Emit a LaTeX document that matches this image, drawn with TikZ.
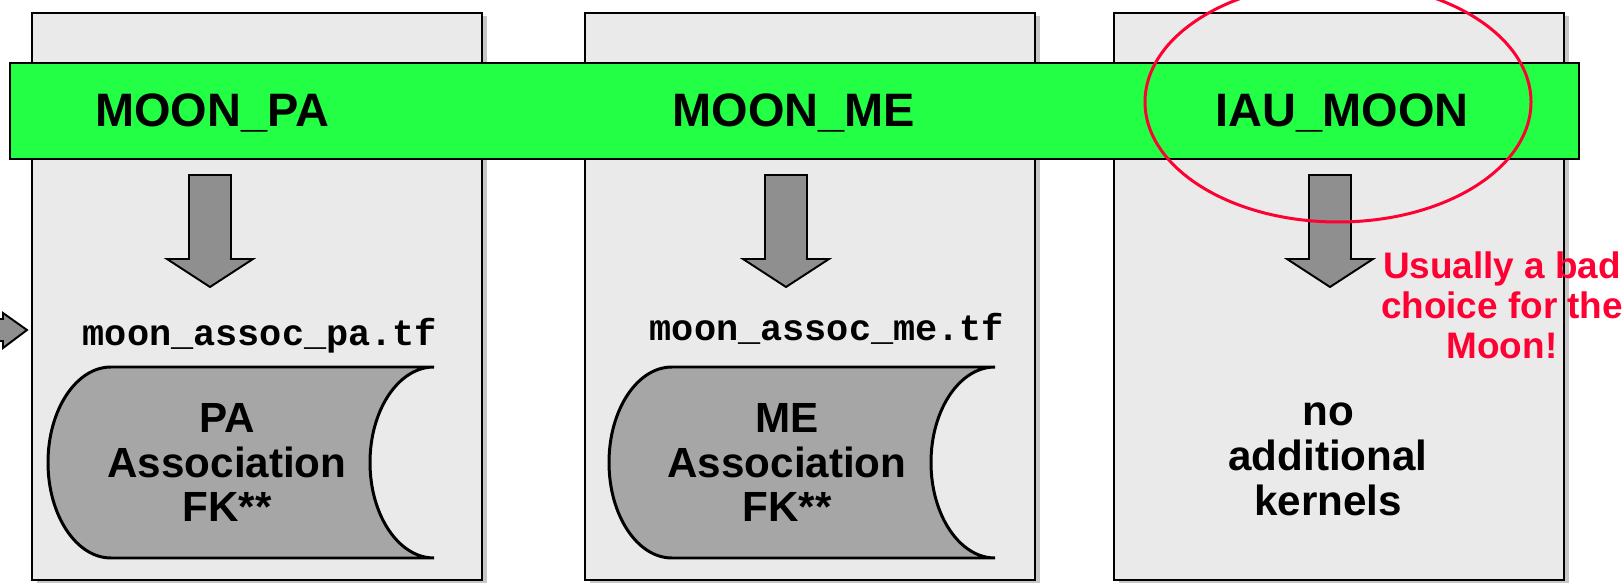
\documentclass[tikz,border=0pt]{standalone}
\usepackage{fontspec}
\setmainfont{Liberation Sans}
\setmonofont{Liberation Mono}
\usepackage{xcolor}
\usetikzlibrary{shapes.geometric,shadows}
\definecolor{panelgray}{HTML}{EAEAEA}
\definecolor{framegreen}{HTML}{22FF44}
\definecolor{arrowgray}{HTML}{8F8F8F}
\definecolor{drumgray}{HTML}{A6A6A6}
\definecolor{noteRed}{HTML}{FF0033}
\tikzset{
  mpanel/.style={rectangle, draw=black, line width=1.1pt, fill=panelgray,
                 minimum width=9.0cm, minimum height=11.34cm, inner sep=0pt,
                 drop shadow={shadow xshift=0.1cm, shadow yshift=-0.06cm,
                              opacity=0.22, fill=black}},
  mbar/.style={rectangle, draw=black, line width=1.1pt, fill=framegreen,
               minimum width=31.38cm, minimum height=1.92cm, inner sep=0pt},
  mhead/.style={font=\fontsize{26.7}{30}\selectfont\bfseries,
                anchor=base, inner sep=0pt},
  mfile/.style={font=\fontsize{21}{24}\selectfont\ttfamily\bfseries,
                anchor=base, inner sep=0pt},
  mtext/.style={font=\fontsize{24}{25.6}\selectfont\bfseries,
                align=center, inner sep=0pt},
  mnote/.style={font=\fontsize{21}{22.8}\selectfont\bfseries,
                text=noteRed, align=center, inner sep=0pt},
  mring/.style={ellipse, draw=noteRed, line width=1.7pt,
                minimum width=7.72cm, minimum height=4.8cm, inner sep=0pt},
  marr/.style={draw=black, line width=1.1pt, fill=arrowgray, line join=miter},
  mdrum/.style={draw=black, line width=1.7pt, fill=drumgray},
  karrow/.pic={
    \path[marr] (-0.42,0) -- (0.42,0) -- (0.42,-1.68) -- (0.86,-1.68)
      -- (0,-2.24) -- (-0.86,-1.68) -- (-0.42,-1.68) -- cycle;},
  kdrum/.pic={
    \path[mdrum] (1.26,3.82) -- (7.72,3.82)
      arc[start angle=90, end angle=270, x radius=1.28, y radius=1.91]
      -- (1.26,0)
      arc[start angle=270, end angle=90, x radius=1.26, y radius=1.91]
      -- cycle;}
}

\begin{document}
\begin{tikzpicture}
\useasboundingbox (0,0) rectangle (32.44,11.66);
% frame panels
\node[mpanel] (pnlpa)  at (5.14,5.73)  {};
\node[mpanel] (pnlme)  at (16.20,5.73) {};
\node[mpanel] (pnliau) at (26.78,5.73) {};
% stub arrow coming in from the left
\draw[marr] (-0.4,5.28) -- (0.06,5.28) -- (0.06,5.40) -- (0.54,5.06)
  -- (0.06,4.70) -- (0.06,4.84) -- (-0.4,4.84) -- cycle;
% green band with frame names
\node[mbar] (band) at (15.89,9.44) {};
\node[mhead] (hpa)  at (4.24,9.12)  {MOON\_PA};
\node[mhead] (hme)  at (15.88,9.12) {MOON\_ME};
\node[mhead] (hiau) at (26.84,9.12) {IAU\_MOON};
\pic at (4.20,8.16)  {karrow};
\pic at (15.72,8.16) {karrow};
\pic at (26.60,8.16) {karrow};
% kernels
\node[mfile] (fpa) at (5.20,4.74)  {moon\_assoc\_pa.tf};
\node[mfile] (fme) at (16.54,4.84) {moon\_assoc\_me.tf};
\pic at (0.96,0.50)  {kdrum};
\pic at (12.18,0.50) {kdrum};
\node[mtext] (kpa)   at (4.54,2.41)  {PA\\Association\\FK**};
\node[mtext] (kme)   at (15.74,2.41) {ME\\Association\\FK**};
\node[mtext] (knone) at (26.56,2.48) {no\\additional\\kernels};
% warning
\node[mnote] (warn) at (30.04,5.55) {Usually a bad\\choice for the\\Moon!};
\node[mring] (iauring) at (26.76,9.62) {};
\end{tikzpicture}
\end{document}
